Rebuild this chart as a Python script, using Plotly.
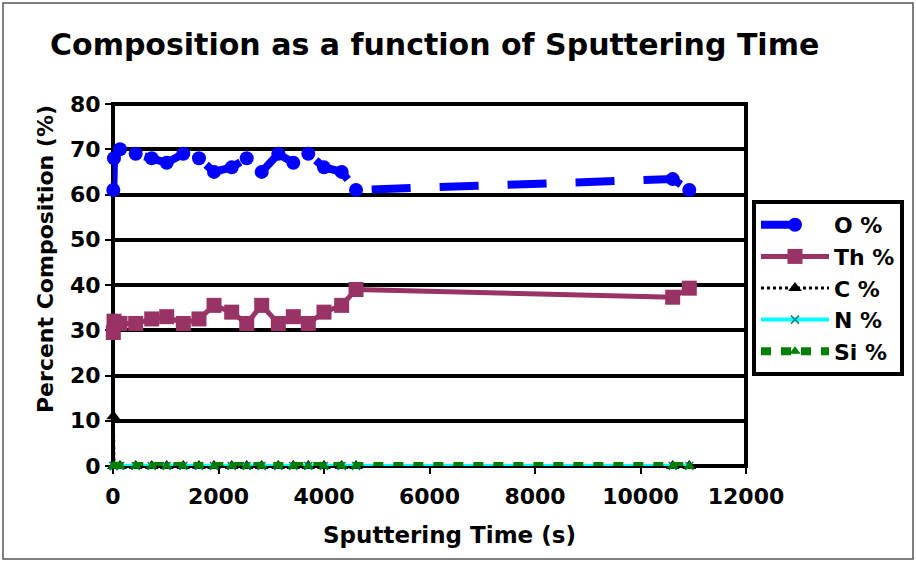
import plotly.graph_objects as go

# Sputtering depth profile: time (s) and atomic composition (%)
time_s = [6, 19, 133, 430, 734, 1018, 1333, 1630, 1915, 2250, 2535,
          2819, 3134, 3418, 3702, 4000, 4335, 4607, 10610, 10925]
o_pct = [61, 68, 70, 69, 68, 67, 69, 68, 65, 66, 68,
         65, 69, 67, 69, 66, 65, 61, 63.4, 61]
th_pct = [29.5, 32, 31.5, 31.5, 32.5, 33, 31.5, 32.5, 35.5, 34, 31.5,
          35.5, 31.5, 33, 31.5, 34, 35.5, 39, 37.3, 39.3]
c_pct = [11, 0, 0, 0, 0, 0, 0, 0, 0, 0, 0,
         0, 0, 0, 0, 0, 0, 0, 0, 0]
n_pct = [0] * 20
si_pct = [0] * 20

x_ticks = [0, 2000, 4000, 6000, 8000, 10000, 12000]
x_tick_text = ["0", "2000", "4000", "6000", "8000", "10000", "12000"]
y_ticks = [0, 10, 20, 30, 40, 50, 60, 70, 80]

FONT = "DejaVu Sans"

fig = go.Figure()
fig.add_trace(go.Scatter(
    x=time_s, y=o_pct, name="O %", mode="lines+markers", cliponaxis=False,
    line=dict(color="#0000FF", width=8, dash="39px,29px"),
    marker=dict(symbol="circle", size=14, color="#0000FF")))
fig.add_trace(go.Scatter(
    x=time_s, y=th_pct, name="Th %", mode="lines+markers", cliponaxis=False,
    line=dict(color="#993366", width=5),
    marker=dict(symbol="square", size=15, color="#993366")))
fig.add_trace(go.Scatter(
    x=time_s, y=c_pct, name="C %", mode="lines+markers", cliponaxis=False,
    line=dict(color="#000000", width=3, dash="dot"),
    marker=dict(symbol="triangle-up", size=12, color="#000000")))
fig.add_trace(go.Scatter(
    x=time_s, y=n_pct, name="N %", mode="lines+markers", cliponaxis=False,
    line=dict(color="#00FFFF", width=4),
    marker=dict(symbol="x-thin", size=8, line=dict(color="#008080", width=1.5))))
fig.add_trace(go.Scatter(
    x=time_s, y=si_pct, name="Si %", mode="lines+markers", cliponaxis=False,
    line=dict(color="#008000", width=8, dash="10px,10px"),
    marker=dict(symbol="triangle-up", size=10, color="#008000")))

axis_common = dict(
    showline=False, zeroline=False,
    ticks="outside", ticklen=7, tickwidth=2, tickcolor="black",
    tickfont=dict(family=FONT, size=22, color="black", weight="bold"),
    layer="below traces",
)

fig.update_xaxes(range=[0, 12000], tickvals=x_ticks, ticktext=x_tick_text,
                 showgrid=False, ticklabelstandoff=4, **axis_common)
fig.update_yaxes(range=[0, 80], tickvals=y_ticks, showgrid=True,
                 gridcolor="black", gridwidth=4, **axis_common)

fig.update_layout(
    width=916, height=562,
    margin=dict(l=113, r=170, t=104, b=96),
    paper_bgcolor="white", plot_bgcolor="white",
    title=dict(text="<b>Composition as a function of Sputtering Time</b>",
               x=50 / 916, xanchor="left", xref="container",
               y=1 - 44 / 562, yanchor="middle", yref="container",
               font=dict(family=FONT, size=30, color="black")),
    legend=dict(x=(752 - 113) / 633, xanchor="left",
                y=(466 - 200) / 362, yanchor="top",
                bordercolor="black", borderwidth=4, bgcolor="white",
                itemwidth=68,
                font=dict(family=FONT, size=22, color="black", weight="bold")),
    showlegend=True,
    annotations=[
        dict(text="<b>Sputtering Time (s)</b>", xref="paper", yref="paper",
             x=(449 - 113) / 633, y=(466 - 535) / 362,
             xanchor="center", yanchor="middle", showarrow=False,
             font=dict(family=FONT, size=23, color="black")),
        dict(text="<b>Percent Composition (%)</b>", xref="paper", yref="paper",
             x=(45 - 113) / 633, y=(466 - 259) / 362, textangle=-90,
             xanchor="center", yanchor="middle", showarrow=False,
             font=dict(family=FONT, size=22, color="black")),
    ],
    shapes=[
        # plot-area frame, centred on the domain edges
        dict(type="rect", xref="paper", yref="paper", x0=0, x1=1, y0=0, y1=1,
             line=dict(color="black", width=4), layer="between"),
        # thin outer border of the figure
        dict(type="rect", xref="paper", yref="paper",
             x0=(3 - 113) / 633, x1=(913 - 113) / 633,
             y0=(466 - 559) / 362, y1=(466 - 3) / 362,
             line=dict(color="#555555", width=1.5), layer="above"),
    ],
)

fig.write_html("out.html")
